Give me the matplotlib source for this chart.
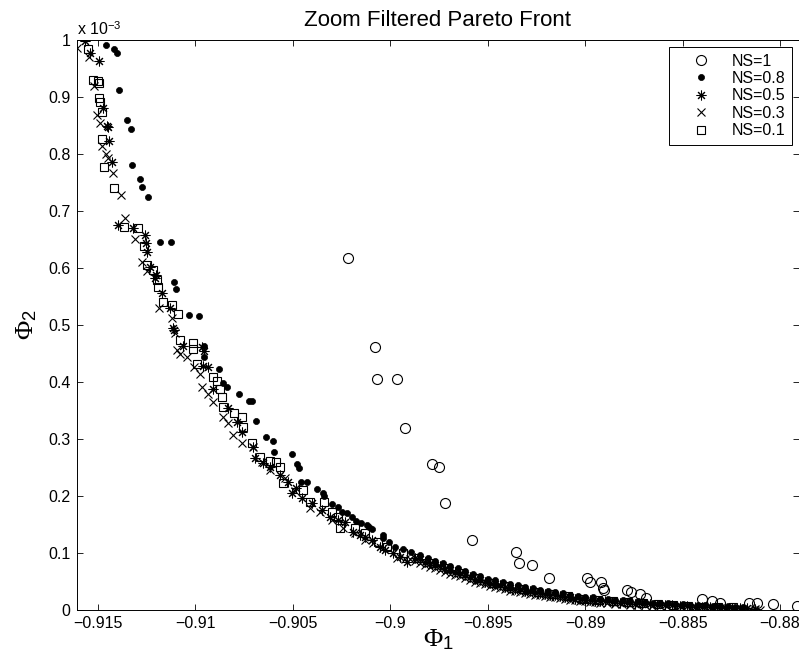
import matplotlib
matplotlib.use('Agg')
import matplotlib.pyplot as plt
import numpy as np

plt.rcParams['font.family'] = 'Liberation Sans'
plt.rcParams['mathtext.fontset'] = 'custom'
plt.rcParams['mathtext.rm'] = 'Liberation Serif'
plt.rcParams['mathtext.sf'] = 'Liberation Sans'
plt.rcParams['mathtext.it'] = 'Liberation Serif:italic'

# NS = 1 (open circles)
ns1_phi1 = [-0.90217, -0.90078, -0.90068, -0.89965, -0.89924, -0.89785, -0.89750, -0.89719,
            -0.89580, -0.89354, -0.89339, -0.89272, -0.89185, -0.88990, -0.88974, -0.88918,
            -0.88908, -0.88903, -0.88784, -0.88764, -0.88718, -0.88687, -0.88399, -0.88348,
            -0.88307, -0.88158, -0.88117, -0.88035, -0.87912]
ns1_phi2 = [0.618, 0.461, 0.405, 0.405, 0.319, 0.256, 0.251, 0.188,
            0.123, 0.102, 0.082, 0.079, 0.056, 0.056, 0.049, 0.049,
            0.039, 0.035, 0.035, 0.032, 0.028, 0.021, 0.019, 0.016,
            0.012, 0.012, 0.012, 0.011, 0.007]

# NS = 0.8 (dots)
ns08_phi1 = [-0.91459, -0.91418, -0.91403, -0.91392, -0.91351, -0.91331, -0.91325, -0.91284,
             -0.91274, -0.91243, -0.91182, -0.91125, -0.91110, -0.91100, -0.91033, -0.90982,
             -0.90956, -0.90956, -0.90879, -0.90858, -0.90838, -0.90776, -0.90725, -0.90709,
             -0.90689, -0.90638, -0.90602, -0.90597, -0.90504, -0.90479, -0.90468, -0.90458,
             -0.90427, -0.90376, -0.90345, -0.90340, -0.90299, -0.90268, -0.90247, -0.90222,
             -0.90196, -0.90176, -0.90150, -0.90119, -0.90109, -0.90093, -0.90037, -0.90037,
             -0.90006, -0.89975, -0.89934, -0.89893,
             -0.89806, -0.89729, -0.89652, -0.89575, -0.89498, -0.89421, -0.89344, -0.89267,
             -0.89190, -0.89113, -0.89036, -0.88959, -0.88882, -0.88805, -0.88728, -0.88651,
             -0.88574, -0.88497, -0.88420, -0.88343, -0.88266, -0.88189]
ns08_phi2 = [0.991, 0.984, 0.977, 0.912, 0.860, 0.844, 0.781, 0.756,
             0.742, 0.725, 0.646, 0.646, 0.575, 0.563, 0.518, 0.516,
             0.463, 0.444, 0.423, 0.398, 0.391, 0.379, 0.367, 0.367,
             0.332, 0.304, 0.296, 0.277, 0.274, 0.256, 0.249, 0.225,
             0.225, 0.212, 0.205, 0.200, 0.186, 0.181, 0.172, 0.170,
             0.163, 0.156, 0.153, 0.149, 0.146, 0.142, 0.132, 0.126,
             0.119, 0.111, 0.107, 0.102,
             0.091, 0.082, 0.073, 0.063, 0.055, 0.049, 0.043, 0.038,
             0.033, 0.029, 0.0245, 0.022, 0.019, 0.017, 0.015, 0.013,
             0.012, 0.010, 0.0085, 0.0075, 0.0065, 0.0055]
ns08_tail_phi1 = [-0.89847, -0.89770, -0.89693, -0.89616, -0.89539, -0.89462, -0.89385, -0.89308,
                  -0.89231, -0.89154, -0.89077, -0.89000, -0.88923, -0.88846, -0.88769, -0.88692,
                  -0.88615, -0.88538, -0.88461, -0.88384, -0.88307, -0.88230]
ns08_tail_phi2 = [0.096, 0.086, 0.077, 0.068, 0.059, 0.052, 0.046, 0.040,
                  0.035, 0.031, 0.027, 0.023, 0.020, 0.018, 0.016, 0.014,
                  0.0125, 0.011, 0.009, 0.008, 0.007, 0.006]

# NS = 0.5 (asterisks)
ns05_phi1 = [-0.91567, -0.91541, -0.91495, -0.91474, -0.91454, -0.91449, -0.91444, -0.91428,
             -0.91397, -0.91320, -0.91259, -0.91254, -0.91249, -0.91233, -0.91202, -0.91207,
             -0.91172, -0.91130, -0.91115, -0.91110, -0.91064, -0.90966, -0.90956, -0.90961,
             -0.90935, -0.90910, -0.90833, -0.90786, -0.90761, -0.90704, -0.90694, -0.90653,
             -0.90617, -0.90566, -0.90525, -0.90504, -0.90484, -0.90453, -0.90401, -0.90350,
             -0.90309, -0.90268, -0.90232, -0.90191, -0.90155, -0.90129, -0.90093, -0.90052,
             -0.90027, -0.89986, -0.89950, -0.89914,
             -0.89873, -0.89821, -0.89770, -0.89719, -0.89667, -0.89616, -0.89565, -0.89513,
             -0.89462, -0.89411, -0.89359, -0.89308, -0.89257, -0.89205, -0.89154, -0.89103,
             -0.89051, -0.89000, -0.88949, -0.88897, -0.88820, -0.88743, -0.88666, -0.88589,
             -0.88512, -0.88435, -0.88358, -0.88281, -0.88204, -0.88127]
ns05_phi2 = [0.998, 0.977, 0.963, 0.881, 0.849, 0.847, 0.823, 0.786,
             0.675, 0.670, 0.658, 0.644, 0.628, 0.602, 0.588, 0.582,
             0.556, 0.530, 0.495, 0.491, 0.463, 0.461, 0.454, 0.428,
             0.426, 0.388, 0.354, 0.330, 0.312, 0.286, 0.267, 0.258,
             0.251, 0.237, 0.225, 0.205, 0.214, 0.196, 0.188, 0.175,
             0.163, 0.158, 0.154, 0.137, 0.132, 0.128, 0.123, 0.111,
             0.105, 0.100, 0.093, 0.084,
             0.092, 0.085, 0.079, 0.073, 0.067, 0.061, 0.055, 0.050,
             0.045, 0.041, 0.037, 0.034, 0.031, 0.028, 0.026, 0.023,
             0.020, 0.018, 0.016, 0.015, 0.013, 0.011, 0.010, 0.0087,
             0.0073, 0.0057, 0.0048, 0.0041, 0.0032, 0.0022]
ns05_tail_phi1 = [-0.89847, -0.89796, -0.89744, -0.89693, -0.89642, -0.89590, -0.89539, -0.89488,
                  -0.89436, -0.89385, -0.89334, -0.89282, -0.89231, -0.89180, -0.89128, -0.89077,
                  -0.89026, -0.88974, -0.88923, -0.88861, -0.88784, -0.88707, -0.88630, -0.88553,
                  -0.88476, -0.88399, -0.88322, -0.88245, -0.88168]
ns05_tail_phi2 = [0.089, 0.082, 0.077, 0.070, 0.065, 0.058, 0.053, 0.047,
                  0.044, 0.039, 0.036, 0.033, 0.030, 0.027, 0.025, 0.022,
                  0.019, 0.0175, 0.016, 0.0143, 0.0122, 0.0108, 0.0093, 0.0082,
                  0.0064, 0.0052, 0.0045, 0.0037, 0.0028]

# NS = 0.3 (crosses)
ns03_phi1 = [-0.91608, -0.91546, -0.91521, -0.91505, -0.91490, -0.91480, -0.91459, -0.91449,
             -0.91423, -0.91382, -0.91361, -0.91310, -0.91274, -0.91249, -0.91187, -0.91120,
             -0.91105, -0.91095, -0.91079, -0.91043, -0.91007, -0.90976, -0.90966, -0.90935,
             -0.90910, -0.90858, -0.90833, -0.90807, -0.90761, -0.90704, -0.90658, -0.90617,
             -0.90540, -0.90489, -0.90412, -0.90360, -0.90299, -0.90242, -0.90181, -0.90129,
             -0.90088, -0.90037, -0.89965,
             -0.89898, -0.89847, -0.89796, -0.89744, -0.89693, -0.89642, -0.89590, -0.89539,
             -0.89488, -0.89436, -0.89385, -0.89334, -0.89282, -0.89231, -0.89180, -0.89128,
             -0.89077, -0.89026, -0.88974, -0.88923, -0.88846, -0.88769, -0.88692, -0.88615,
             -0.88538, -0.88461, -0.88384, -0.88307, -0.88230, -0.88153, -0.88102]
ns03_phi2 = [0.986, 0.970, 0.919, 0.868, 0.854, 0.814, 0.800, 0.793,
             0.767, 0.728, 0.688, 0.651, 0.611, 0.595, 0.530, 0.512,
             0.486, 0.456, 0.449, 0.444, 0.426, 0.414, 0.391, 0.379,
             0.365, 0.339, 0.328, 0.307, 0.293, 0.286, 0.260, 0.246,
             0.232, 0.209, 0.179, 0.172, 0.158, 0.144, 0.135, 0.123,
             0.118, 0.109, 0.091,
             0.090, 0.083, 0.076, 0.071, 0.064, 0.059, 0.052, 0.047,
             0.042, 0.039, 0.034, 0.031, 0.028, 0.026, 0.023, 0.021,
             0.018, 0.016, 0.0145, 0.013, 0.011, 0.0095, 0.008, 0.0067,
             0.0058, 0.0042, 0.0033, 0.0028, 0.002, 0.0012, 0.0006]
ns03_tail_phi1 = [-0.89924, -0.89873, -0.89821, -0.89770, -0.89719, -0.89667, -0.89616, -0.89565,
                  -0.89513, -0.89462, -0.89411, -0.89359, -0.89308, -0.89257, -0.89205, -0.89154,
                  -0.89103, -0.89051, -0.89000, -0.88949, -0.88887, -0.88810, -0.88733, -0.88656,
                  -0.88579, -0.88502, -0.88425, -0.88348, -0.88271, -0.88194, -0.88127]
ns03_tail_phi2 = [0.089, 0.086, 0.079, 0.074, 0.067, 0.062, 0.056, 0.050,
                  0.045, 0.041, 0.037, 0.033, 0.030, 0.027, 0.025, 0.022,
                  0.020, 0.017, 0.015, 0.014, 0.012, 0.0105, 0.009, 0.0075,
                  0.0062, 0.005, 0.0038, 0.003, 0.0024, 0.0016, 0.0009]

# NS = 0.1 (open squares)
ns01_phi1 = [-0.91551, -0.91526, -0.91500, -0.91495, -0.91495, -0.91490, -0.91480, -0.91480,
             -0.91469, -0.91418, -0.91367, -0.91295, -0.91264, -0.91249, -0.91218, -0.91197,
             -0.91192, -0.91166, -0.91120, -0.91089, -0.91079, -0.91012, -0.91012, -0.90992,
             -0.90910, -0.90889, -0.90874, -0.90864, -0.90858, -0.90802, -0.90761, -0.90756,
             -0.90709, -0.90668, -0.90617, -0.90586, -0.90566, -0.90550, -0.90448, -0.90412,
             -0.90340, -0.90299, -0.90268, -0.90258, -0.90181, -0.90129, -0.90063, -0.90016,
             -0.89934,
             -0.89857, -0.89780, -0.89703, -0.89626, -0.89549, -0.89472, -0.89395, -0.89318,
             -0.89241, -0.89164, -0.89087, -0.89010, -0.88933, -0.88856, -0.88779, -0.88702,
             -0.88625, -0.88548, -0.88471, -0.88394, -0.88317, -0.88240]
ns01_phi2 = [0.984, 0.930, 0.928, 0.925, 0.898, 0.891, 0.874, 0.826,
             0.777, 0.740, 0.672, 0.670, 0.639, 0.605, 0.596, 0.579,
             0.567, 0.540, 0.535, 0.519, 0.474, 0.468, 0.458, 0.432,
             0.409, 0.402, 0.388, 0.374, 0.356, 0.346, 0.339, 0.321,
             0.293, 0.268, 0.261, 0.260, 0.251, 0.223, 0.211, 0.189,
             0.189, 0.172, 0.163, 0.144, 0.144, 0.135, 0.119, 0.111,
             0.100,
             0.092, 0.083, 0.073, 0.065, 0.056, 0.048, 0.042, 0.037,
             0.032, 0.028, 0.024, 0.020, 0.018, 0.016, 0.014, 0.012,
             0.011, 0.0095, 0.0075, 0.006, 0.0055, 0.0045]

xticks = [-0.915, -0.91, -0.905, -0.9, -0.895, -0.89, -0.885, -0.88]
xtick_labels = ['\u22120.915', '\u22120.91', '\u22120.905', '\u22120.9',
                '\u22120.895', '\u22120.89', '\u22120.885', '\u22120.88']
yticks = [0, 0.1, 0.2, 0.3, 0.4, 0.5, 0.6, 0.7, 0.8, 0.9, 1]
ytick_labels = ['0', '0.1', '0.2', '0.3', '0.4', '0.5', '0.6', '0.7', '0.8', '0.9', '1']

fig = plt.figure(figsize=(7.99, 6.66), dpi=100)
ax = fig.add_axes([77 / 799, 56 / 666, 722 / 799, 570 / 666])

scale = 1e-3
ax.plot(ns1_phi1, np.array(ns1_phi2) * scale, linestyle='none', marker='o', ms=7.2,
        mfc='none', mec='k', mew=0.8, label='NS=1')
ax.plot(ns08_phi1 + ns08_tail_phi1, np.array(ns08_phi2 + ns08_tail_phi2) * scale,
        linestyle='none', marker='o', ms=4.4, mfc='k', mec='k', mew=0.5, label='NS=0.8')
ax.plot(ns05_phi1 + ns05_tail_phi1, np.array(ns05_phi2 + ns05_tail_phi2) * scale,
        linestyle='none', marker=(8, 2, 0), ms=7.0, mfc='none', mec='k', mew=0.75,
        label='NS=0.5')
ax.plot(ns03_phi1 + ns03_tail_phi1, np.array(ns03_phi2 + ns03_tail_phi2) * scale,
        linestyle='none', marker='x', ms=6.0, mec='k', mew=0.8, label='NS=0.3')
ax.plot(ns01_phi1, np.array(ns01_phi2) * scale, linestyle='none', marker='s', ms=6.0,
        mfc='none', mec='k', mew=0.8, label='NS=0.1')

ax.set_xlim(-0.91608, -0.879025)
ax.set_ylim(0, 1e-3)
ax.set_xticks(xticks)
ax.set_xticklabels(xtick_labels)
ax.set_yticks(np.array(yticks) * scale)
ax.set_yticklabels(ytick_labels)
ax.tick_params(direction='in', length=4.5, width=0.6, top=True, right=True,
               labelsize=11.5, pad=4.5)
for s in ax.spines.values():
    s.set_linewidth(0.7)

ax.text(0, 1.004, r'x 10$^{\mathsf{-3}}$', transform=ax.transAxes,
        ha='left', va='bottom', fontsize=11.5)

ax.set_title('Zoom Filtered Pareto Front', fontsize=16, pad=10)
ax.set_xlabel(r'$\Phi_{\mathsf{1}}$', fontsize=19)
ax.set_ylabel(r'$\Phi_{\mathsf{2}}$', fontsize=19)
ax.xaxis.set_label_coords(0.5, -0.03)
ax.yaxis.set_label_coords(-0.052, 0.5)

leg = ax.legend(loc='upper right', fontsize=11.5, fancybox=False, edgecolor='k',
                framealpha=1, borderaxespad=0.45, borderpad=0.4, handlelength=3.3,
                handletextpad=0.25, labelspacing=0.15)
leg.get_frame().set_linewidth(0.7)

fig.savefig('out.png', dpi=100)
